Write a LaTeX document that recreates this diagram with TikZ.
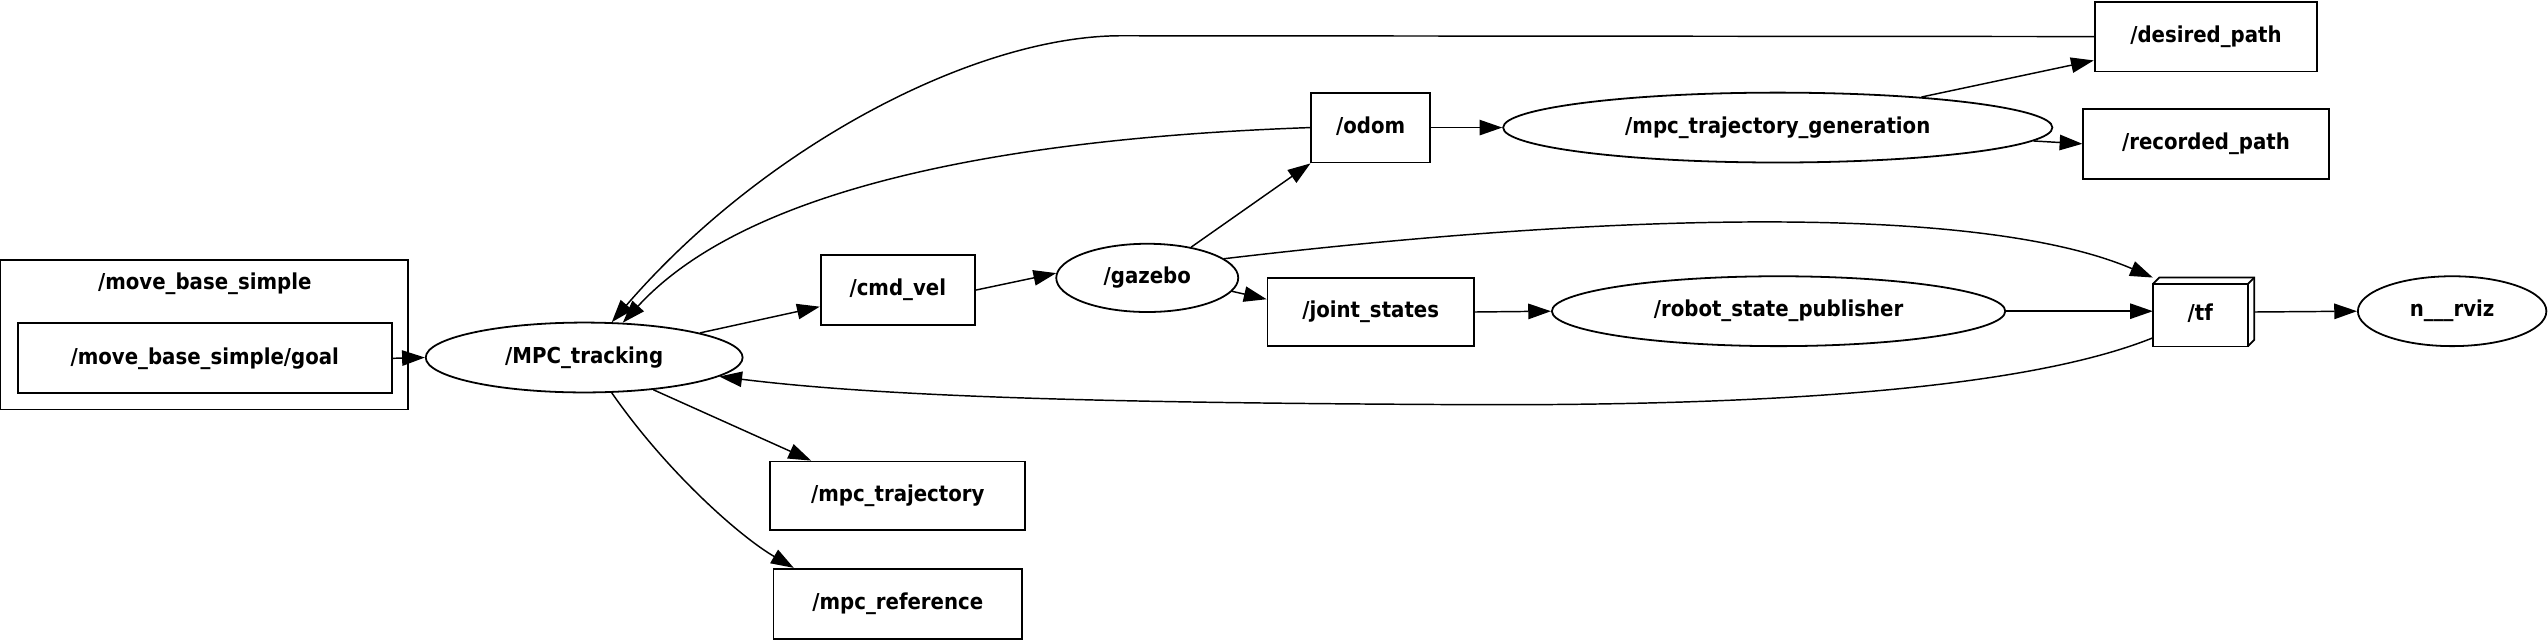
\documentclass[tikz,border=0pt]{standalone}
\usepackage{fontspec}
\setmainfont{DejaVu Sans Condensed}
\usepackage{tikz}
\usetikzlibrary{shapes.geometric,arrows.meta,calc}
\tikzset{
  every node/.style={font=\fontsize{13.5}{15}\selectfont\bfseries,text height=0.85em,text depth=0.15em},
  topic/.style={shape=rectangle,draw=black,line width=1.1pt,inner sep=0pt},
  rosnode/.style={shape=ellipse,draw=black,line width=1.1pt,inner sep=0pt},
  link/.style={draw=black,line width=0.9pt,-{Triangle[length=14pt,width=9.5pt]}},
  cluster/.style={shape=rectangle,draw=black,line width=1.1pt,inner sep=0pt}
}
\begin{document}
\begin{tikzpicture}[x=1pt,y=-1pt]
      \useasboundingbox (0,0) rectangle (1568,394);
      % cluster and its topic
      \node[cluster,minimum width=251pt,minimum height=92pt] (mbs) at (125.5,206) {};
      \node (mbslabel) at (126,174.5) {/move\_base\_simple};
      \node[topic,minimum width=230pt,minimum height=43pt] (goal) at (126,220.5) {/move\_base\_simple/goal};
      % ros nodes
      \node[rosnode,minimum width=195pt,minimum height=43pt] (track) at (359.5,220) {/MPC\_tracking};
      \node[rosnode,minimum width=112pt,minimum height=42pt] (gazebo) at (706,171) {/gazebo};
      \node[rosnode,minimum width=338pt,minimum height=43pt] (trajgen) at (1094,78.5) {/mpc\_trajectory\_generation};
      \node[rosnode,minimum width=279pt,minimum height=43pt] (rsp) at (1094.5,191.5) {/robot\_state\_publisher};
      \node[rosnode,minimum width=116pt,minimum height=43pt] (rviz) at (1509,191.5) {n\_\_\_rviz};
      % topics
      \node[topic,minimum width=95pt,minimum height=43pt] (cmdvel) at (552.5,178.5) {/cmd\_vel};
      \node[topic,minimum width=73pt,minimum height=43pt] (odom) at (843.5,78.5) {/odom};
      \node[topic,minimum width=137pt,minimum height=43pt] (despath) at (1357.5,22.5) {/desired\_path};
      \node[topic,minimum width=151pt,minimum height=43pt] (recpath) at (1357.5,88.5) {/recorded\_path};
      \node[topic,minimum width=127pt,minimum height=42pt] (joints) at (843.5,192) {/joint\_states};
      \node[topic,minimum width=157pt,minimum height=42pt] (mpctraj) at (552.5,305) {/mpc\_trajectory};
      \node[topic,minimum width=153pt,minimum height=43pt] (mpcref) at (552.5,371.5) {/mpc\_reference};
      \node[minimum width=62pt,minimum height=42pt,inner sep=0pt] (tf) at (1356,192) {};
      \node (tflabel) at (1354,194) {/tf};
      % box3d outline of /tf
      \draw[line width=1.1pt,line join=miter] (tf.south west) rectangle ($(tf.north east)+(-4,4)$);
      \draw[line width=1.1pt,line join=miter] ($(tf.north west)+(0,4)$) -- ($(tf.north west)+(4,0)$)
        -- (tf.north east) -- ($(tf.south east)+(0,-4)$) -- ($(tf.south east)+(-4,0)$);
      \draw[line width=1.1pt] ($(tf.north east)+(-4,4)$) -- (tf.north east);
      % connectors
      \draw[link] (goal.east) -- (track.west);
      \draw[link] (track.12) -- (cmdvel.192);
      \draw[link] (cmdvel.east) -- (gazebo.177);
      \draw[link] (gazebo.35) -- (odom.south west);
      \draw[link] (gazebo.-9) -- (joints.173);
      \draw[link] (gazebo.14) .. controls (1000,130) and (1220,126) .. (tf.north west);
      \draw[link] (odom.east) -- (trajgen.west);
      \draw[link] (odom.west) .. controls (620,85) and (460,115) .. (track.42);
      \draw[link] (trajgen.12) -- (despath.192);
      \draw[link] (trajgen.-3) -- (recpath.west);
      \draw[link] (despath.west) -- (690,22) .. controls (600,22) and (470,90) .. (track.52);
      \draw[link] (joints.east) -- (rsp.west);
      \draw[link] (rsp.east) -- (rsp.east -| tf.west);
      \draw[link] (tf.207) .. controls (1250,238) and (1100,250) .. (900,249)
        .. controls (700,248) and (550,245) .. (track.-8);
      \draw[link] (tf.east) -- (rviz.west);
      \draw[link] (track.-25) -- (mpctraj.158);
      \draw[link] (track.-52) .. controls (410,290) and (455,330) .. (mpcref.161);
\end{tikzpicture}
\end{document}
